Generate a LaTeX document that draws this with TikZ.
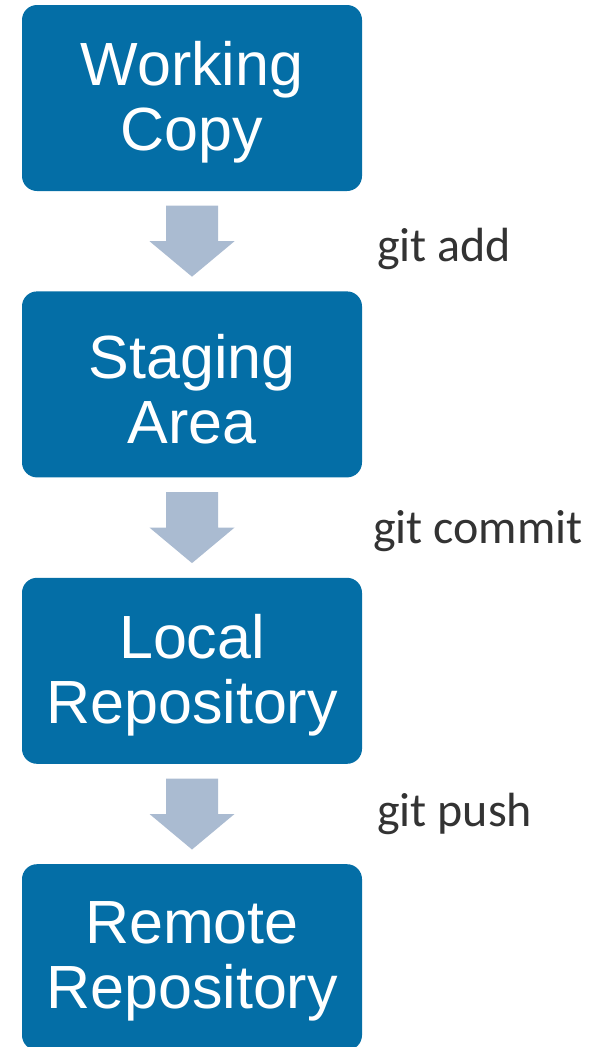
\documentclass[tikz,border=0pt]{standalone}
\usepackage{fontspec}
\setmainfont{Liberation Sans}
\newfontfamily\cmdfont{Carlito}
\usetikzlibrary{positioning,calc}

\definecolor{boxblue}{RGB}{4,110,166}
\definecolor{arrowgray}{RGB}{170,187,209}
\definecolor{cmdgray}{RGB}{51,51,51}

\tikzset{
  stagebox/.style={fill=boxblue, rounded corners=15pt, minimum width=340pt,
    minimum height=186pt, text width=330pt, align=center, inner sep=0pt,
    execute at end node={\par\vspace{-9pt}},
    text=white, font=\fontsize{61}{65}\selectfont},
  cmdlabel/.style={text=cmdgray, inner sep=0pt, font=\cmdfont\fontsize{48}{58}\selectfont},
  blockarrow/.pic={
    \fill[arrowgray] (-26,-35.5) -- (26,-35.5) -- (26,0) -- (42.5,0)
      -- (0,35.5) -- (-42.5,0) -- (-26,0) -- cycle;
  }
}

\begin{document}
\begin{tikzpicture}[x=1pt,y=-1pt, node distance=100pt]
  \useasboundingbox (0,0) rectangle (590,1047);
  %%%%%%%%%%%%%%%%% stages %%%%%%%%%%%%%%%%%%%
  \node[stagebox] (wc) at (192,98) {Working\\Copy};
  \node[stagebox, below=of wc] (sa) {Staging\\Area};
  \node[stagebox, below=of sa] (lr) {Local\\Repository};
  \node[stagebox, below=of lr] (rr) {Remote\\Repository};

  %%%%%%%%%%%%%%%%% arrows and commands %%%%%%%%%%%%%%%%%%%
  % from/to/command/xshift/yshift of the label baseline
  \foreach \from/\to/\cmd/\dx/\dy in {wc/sa/add/185/20, sa/lr/commit/181/16, lr/rr/push/185/12}
  {
    \coordinate (\from-\to) at ($(\from.south)!.5!(\to.north)$);
    \pic at (\from-\to) {blockarrow};
    \node[cmdlabel, anchor=base west] (git-\cmd) at ($(\from-\to)+(\dx,\dy)$) {git \cmd};
  }
\end{tikzpicture}
\end{document}
